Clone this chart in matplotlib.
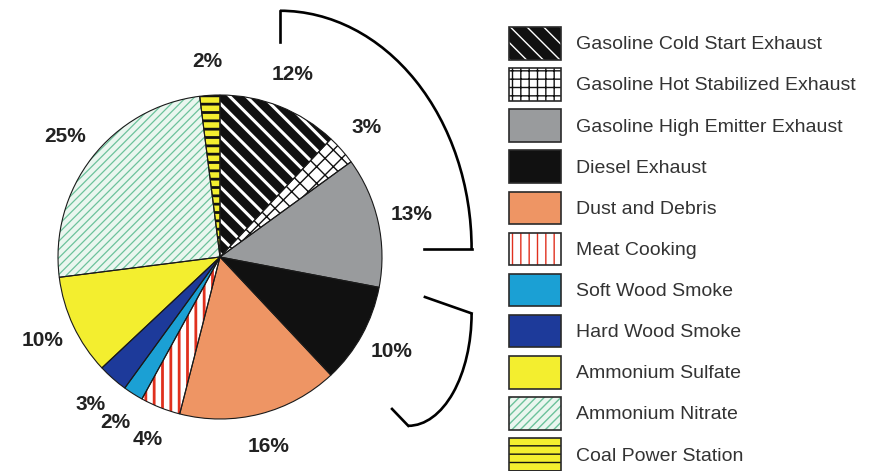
import matplotlib.pyplot as plt
from matplotlib.patches import Patch, Arc
from matplotlib.legend_handler import HandlerTuple

# data
sources = ["Gasoline Cold Start Exhaust", "Gasoline Hot Stabilized Exhaust",
           "Gasoline High Emitter Exhaust", "Diesel Exhaust", "Dust and Debris",
           "Meat Cooking", "Soft Wood Smoke", "Hard Wood Smoke",
           "Ammonium Sulfate", "Ammonium Nitrate", "Coal Power Station"]
shares = [12, 3, 13, 10, 16, 4, 2, 3, 10, 25, 2]

# styles per slice: face, hatch, hatch colour, hatch width
faces = ["#111111", "white", "#999b9d", "#111111", "#ee9564", "white",
         "#1ba0d4", "#1d3a9a", "#f3ee2f", "#eaf6ef", "#f3ee2f"]
hatches = ["\\\\", "xx", None, None, None, "||", None, None, None, "////", "--"]
legend_hatches = ["\\\\", "++", None, None, None, "||", None, None, None, "////", "--"]
hatch_cols = ["white", "#111111", "none", "none", "none", "#e0301e",
              "none", "none", "none", "#6cc29b", "#111111"]
hatch_lws = [2.2, 1.0, 1, 1, 1, 2.0, 1, 1, 1, 0.9, 2.0]

plt.rcParams["font.family"] = ["Liberation Sans", "DejaVu Sans"]

W, H = 870, 471
CX, CY, RPX = 220, 257, 162   # pie centre / radius in pixels

fig = plt.figure(figsize=(W / 100, H / 100), dpi=100)
ax = fig.add_axes([0, 0, 1, 1])


def set_hlw(p, lw):
    if hasattr(p, "set_hatch_linewidth"):
        p.set_hatch_linewidth(lw)


# fill + hatch layer
wedges, _ = ax.pie(shares, startangle=90, counterclock=False, radius=1,
                   colors=faces, wedgeprops=dict(linewidth=0))
for w, h, hc, lw in zip(wedges, hatches, hatch_cols, hatch_lws):
    if h:
        w.set_hatch(h)
        w.set_edgecolor(hc)
        set_hlw(w, lw)

# outline layer with labels
outl, _, pcts = ax.pie(shares, startangle=90, counterclock=False, radius=1,
                       autopct=lambda p: f"{p:.0f}%", pctdistance=1.21,
                       wedgeprops=dict(fill=False, edgecolor="#1a1a1a", linewidth=0.8))
for t in pcts:
    t.set_fontsize(15)
    t.set_fontweight("bold")
    t.set_color("#222222")

ax.set_xlim(-CX / RPX, (W - CX) / RPX)
ax.set_ylim(-(H - CY) / RPX, CY / RPX)
ax.set_aspect("equal")
ax.axis("off")

# brackets
bk = dict(color="black", linewidth=1.9)
ax.add_patch(Arc((0.370, 0.049), 2 * 1.183, 2 * 1.471, theta1=0, theta2=90, **bk))
ax.plot([0.370, 0.370], [1.520, 1.327], **bk)
ax.plot([1.553, 1.259], [0.049, 0.049], **bk)
ax.add_patch(Arc((1.162, -0.348), 2 * 0.391, 2 * 0.694, theta1=270, theta2=360, **bk))
ax.plot([1.553, 1.265], [-0.348, -0.247], **bk)
ax.plot([1.162, 1.062], [-1.042, -0.938], **bk)

# legend
handles = []
for fc, h, hc, lw in zip(faces, legend_hatches, hatch_cols, hatch_lws):
    base = Patch(facecolor=fc, edgecolor=hc if h else fc, linewidth=0, hatch=h)
    set_hlw(base, lw)
    frame = Patch(fill=False, edgecolor="#2a2a2a", linewidth=1.2)
    handles.append((base, frame))

leg = fig.legend(handles, sources, handler_map={tuple: HandlerTuple(ndivide=1)},
                 loc="upper left", bbox_to_anchor=(509 / W, 1 - 27 / H),
                 frameon=False, fontsize=14, borderpad=0, borderaxespad=0,
                 handlelength=2.67, handleheight=2.2, labelspacing=0.44,
                 handletextpad=0.8)
for t in leg.get_texts():
    t.set_color("#333333")

fig.savefig("out.png", dpi=100)
